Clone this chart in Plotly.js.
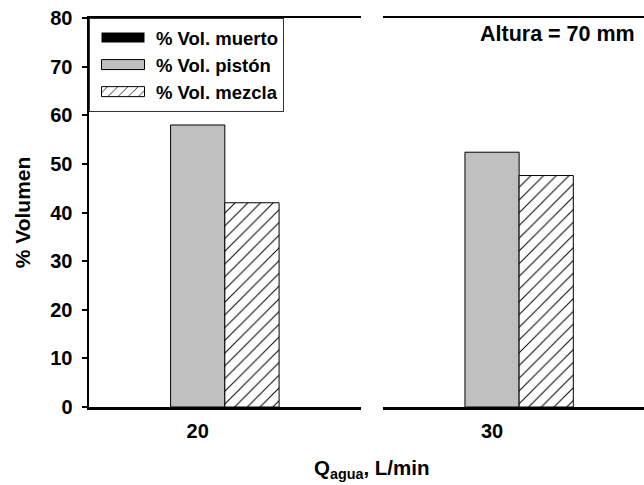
<!DOCTYPE html>
<html>
<head>
<meta charset="utf-8">
<script src="https://cdn.plot.ly/plotly-3.0.1.min.js"></script>
<style>
  html, body { margin: 0; padding: 0; background: #fff; overflow: hidden; }
  #chart { width: 644px; height: 485px; }
</style>
</head>
<body>
<div id="chart"></div>
<script>
// Flow rates (one panel per flow rate, broken x axis)
const groups = ['20', '30'];
const seriesNames = ['% Vol. muerto', '% Vol. pistón', '% Vol. mezcla'];
// Volume fractions, %
const volMuerto = [0, 0];
const volPiston = [58.0, 52.4];
const volMezcla = [42.0, 47.6];

const FONT = 'Liberation Sans, Arial, Helvetica, sans-serif';
const axisIds = ['x', 'x2'];

const seriesStyle = [
  { color: '#000000', line: { color: '#000000', width: 0 } },
  { color: '#c0c0c0', line: { color: '#000000', width: 1 } },
  { color: '#ffffff', line: { color: '#000000', width: 1 },
    pattern: { shape: '/', size: 9, solidity: 0.11, fgcolor: '#000000', bgcolor: '#ffffff', fillmode: 'replace' } }
];
const seriesValues = [volMuerto, volPiston, volMezcla];

const traces = [];
groups.forEach((g, i) => {
  seriesValues.forEach((vals, s) => {
    traces.push({
      type: 'bar',
      name: seriesNames[s],
      x: [g],
      y: [vals[i]],
      xaxis: axisIds[i],
      yaxis: 'y',
      marker: Object.assign({}, seriesStyle[s]),
      legendgroup: 's' + s,
      showlegend: i === 0,
      hoverinfo: 'x+y+name'
    });
  });
});

const tickFont = { family: FONT, size: 20, color: '#000', weight: 700 };

const xCommon = {
  type: 'category',
  showline: true,
  linecolor: '#000',
  linewidth: 2.5,
  mirror: true,
  ticks: '',
  showgrid: false,
  zeroline: false,
  layer: 'above traces',
  tickfont: tickFont,
  ticklabelstandoff: 4,
  anchor: 'y',
  fixedrange: true
};

const layout = {
  width: 644,
  height: 485,
  margin: { l: 89, r: 0, t: 18, b: 78, pad: 0 },
  paper_bgcolor: '#fff',
  plot_bgcolor: '#fff',
  barmode: 'group',
  bargap: 0,
  bargroupgap: 0,
  font: { family: FONT, color: '#000' },
  xaxis: Object.assign({}, xCommon, { domain: [0, 0.490], range: [-0.668, 1.003] }),
  xaxis2: Object.assign({}, xCommon, { domain: [0.5297, 1], range: [-0.671, 0.935] }),
  yaxis: {
    range: [0, 80],
    dtick: 10,
    ticks: 'outside',
    ticklen: 5,
    tickwidth: 2,
    tickcolor: '#000',
    showline: true,
    linecolor: '#000',
    linewidth: 2.5,
    showgrid: false,
    zeroline: false,
    layer: 'above traces',
    tickfont: tickFont,
    ticklabelstandoff: 5,
    fixedrange: true,
    title: { text: '% Volumen', font: { family: FONT, size: 21, color: '#000', weight: 700 }, standoff: 14 }
  },
  legend: {
    x: 0, y: 1, xanchor: 'left', yanchor: 'top',
    bgcolor: '#fff',
    bordercolor: '#333',
    borderwidth: 1,
    itemwidth: 56,
    traceorder: 'normal',
    font: { family: FONT, size: 18.5, color: '#000', weight: 700 }
  },
  annotations: [
    {
      text: 'Altura = 70 mm',
      xref: 'paper', yref: 'paper',
      x: 0.987, y: 0.959, xanchor: 'right', yanchor: 'middle',
      showarrow: false,
      font: { family: FONT, size: 21.5, color: '#000', weight: 700 }
    },
    {
      text: 'Q<sub>agua</sub>, L/min',
      xref: 'paper', yref: 'paper',
      x: 0.51, y: -0.16, xanchor: 'center', yanchor: 'middle',
      showarrow: false,
      font: { family: FONT, size: 20.5, color: '#000', weight: 700 }
    }
  ]
};

// Wide rectangular legend swatches
function widenSwatches() {
  document.querySelectorAll('#chart .legend .legendpoints path').forEach(p => {
    p.setAttribute('d', 'M21.5,5H-21.5V-5H21.5Z');
  });
}

Plotly.newPlot('chart', traces, layout, { displayModeBar: false, staticPlot: true })
  .then(gd => { widenSwatches(); gd.on('plotly_afterplot', widenSwatches); });
</script>
</body>
</html>
